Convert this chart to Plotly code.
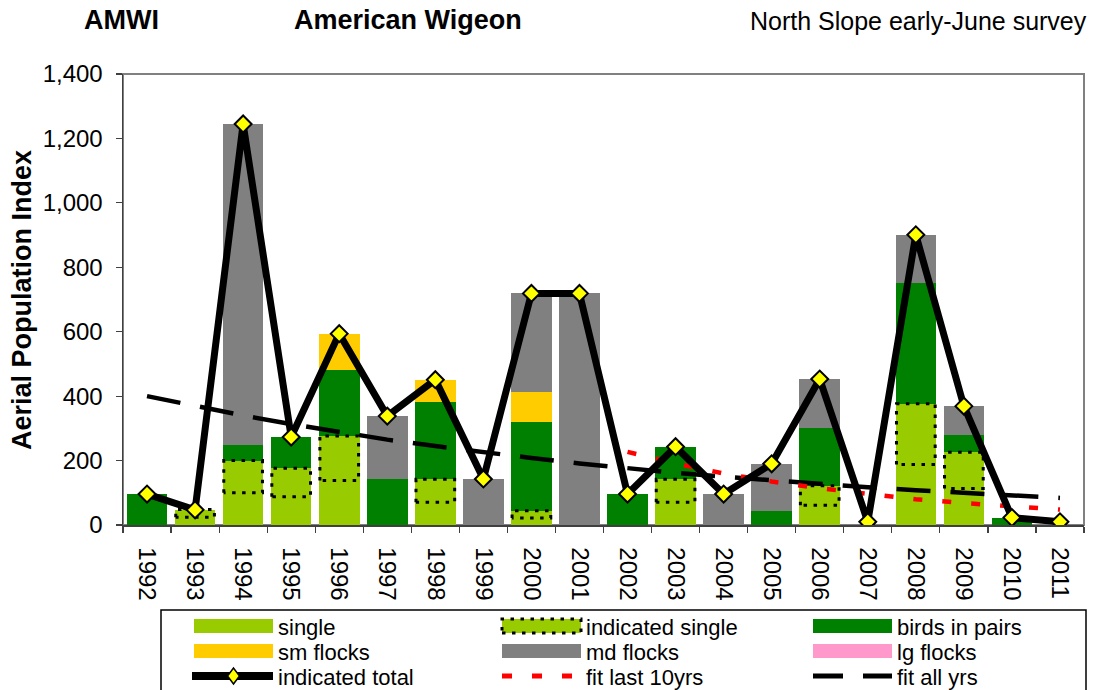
import plotly.graph_objects as go

# ---------------- data ----------------
years = [1992, 1993, 1994, 1995, 1996, 1997, 1998, 1999, 2000, 2001,
         2002, 2003, 2004, 2005, 2006, 2007, 2008, 2009, 2010, 2011]
year_labels = [str(y) for y in years]
single = [0, 24, 100, 88, 138, 0, 71, 0, 22, 0, 0, 71, 0, 0, 61, 0, 188, 113, 0, 0]
indicated_single = [0, 24, 100, 88, 138, 0, 71, 0, 22, 0, 0, 71, 0, 0, 61, 0, 188, 113, 0, 0]
birds_in_pairs = [96, 0, 48, 98, 205, 143, 240, 0, 276, 0, 96, 100, 0, 43, 180, 0, 375, 54, 23, 0]
sm_flocks = [0, 0, 0, 0, 112, 0, 68, 0, 93, 0, 0, 0, 0, 0, 0, 0, 0, 0, 0, 0]
md_flocks = [0, 0, 997, 0, 0, 195, 0, 143, 306, 719, 0, 0, 96, 147, 152, 0, 150, 90, 0, 0]
lg_flocks = [0, 0, 0, 0, 0, 0, 0, 0, 0, 0, 0, 0, 0, 0, 0, 0, 0, 0, 0, 0]
indicated_total = [96, 47, 1245, 273, 594, 338, 451, 143, 719, 719,
                   96, 243, 96, 190, 453, 10, 901, 369, 23, 10]
fit_all_yrs = [400, 369, 340, 313, 288, 265, 245, 225, 208, 191,
               176, 162, 150, 138, 127, 117, 108, 99, 91, 84]
fit_last10_years = [2002, 2003, 2004, 2005, 2006, 2007, 2008, 2009, 2010, 2011]
fit_last10 = [227, 191, 160, 135, 114, 96, 80, 68, 57, 48]
y_ticks = [0, 200, 400, 600, 800, 1000, 1200, 1400]

legend_names = [["single", "indicated single", "birds in pairs"],
                ["sm flocks", "md flocks", "lg flocks"],
                ["indicated total", "fit last 10yrs", "fit all yrs"]]

# ---------------- styles ----------------
C_SINGLE = "#99CC00"
C_PAIRS = "#008000"
C_SM = "#FFCC00"
C_MD = "#808080"
C_LG = "#FF99CC"
FONT = "Liberation Sans, Arial, sans-serif"
W, H = 1094, 690
ML, MT = 123, 74
PW, PH = 961, 451
MR = W - ML - PW
MB = H - MT - PH
BAR_W = 0.845


def px(x):  # pixel -> paper x
    return (x - ML) / PW


def py(y):  # pixel -> paper y
    return (MT + PH - y) / PH


fig = go.Figure()

stack = [("single", single, C_SINGLE), ("indicated single", indicated_single, C_SINGLE),
         ("birds in pairs", birds_in_pairs, C_PAIRS), ("sm flocks", sm_flocks, C_SM),
         ("md flocks", md_flocks, C_MD), ("lg flocks", lg_flocks, C_LG)]
for name, vals, col in stack:
    fig.add_trace(go.Bar(x=years, y=vals, name=name, width=BAR_W,
                         marker=dict(color=col, line=dict(width=0)),
                         showlegend=False))

# dotted outline around the indicated-single segments
ox, oy = [], []
for yr, s, ind in zip(years, single, indicated_single):
    if ind > 0:
        x0, x1 = yr - BAR_W / 2 + 0.02, yr + BAR_W / 2 - 0.02
        ox += [x0, x0, x1, x1, x0, None]
        oy += [s, s + ind, s + ind, s, s, None]
fig.add_trace(go.Scatter(x=ox, y=oy, mode="lines", showlegend=False, hoverinfo="skip",
                         line=dict(color="black", width=3, dash="3.5px,6.5px")))

fig.add_trace(go.Scatter(x=years, y=fit_all_yrs, mode="lines", name="fit all yrs",
                         showlegend=False,
                         line=dict(color="black", width=4.5, dash="34px,20px")))
fig.add_trace(go.Scatter(x=fit_last10_years, y=fit_last10, mode="lines", name="fit last 10yrs",
                         showlegend=False,
                         line=dict(color="#FF0000", width=4.5, dash="9px,20px")))
fig.add_trace(go.Scatter(x=years, y=indicated_total, mode="lines+markers", name="indicated total",
                         showlegend=False,
                         line=dict(color="black", width=7),
                         marker=dict(symbol="diamond", size=13, color="#FFFF00",
                                     line=dict(color="black", width=2))))

shapes = []
annotations = []

# plot frame (grey top/right)
shapes.append(dict(type="rect", xref="paper", yref="paper", x0=0, x1=1, y0=0, y1=1,
                   line=dict(color="#808080", width=2), layer="below"))

# titles
annotations.append(dict(text="<b>AMWI</b>", x=px(82), y=py(20), xref="paper", yref="paper",
                        xanchor="left", yanchor="middle", showarrow=False,
                        font=dict(family=FONT, size=27, color="black")))
annotations.append(dict(text="<b>American Wigeon</b>", x=px(292), y=py(20), xref="paper", yref="paper",
                        xanchor="left", yanchor="middle", showarrow=False,
                        font=dict(family=FONT, size=27, color="black")))
annotations.append(dict(text="North Slope early-June survey", x=px(1089), y=py(21), xref="paper",
                        yref="paper", xanchor="right", yanchor="middle", showarrow=False,
                        font=dict(family=FONT, size=25, color="black")))
annotations.append(dict(text="<b>Aerial Population Index</b>", x=px(22), y=py(300), xref="paper",
                        yref="paper", xanchor="center", yanchor="middle", textangle=-90,
                        showarrow=False, font=dict(family=FONT, size=27, color="black")))

# ---------------- manual legend ----------------
LX0, LX1, LY0, LY1 = 161, 1086, 610, 720
shapes.append(dict(type="rect", xref="paper", yref="paper", x0=px(LX0), x1=px(LX1),
                   y0=py(LY1), y1=py(LY0), line=dict(color="black", width=1.5),
                   fillcolor="white", layer="above"))
col_sym = [194, 502, 813]
SYM_W = 79
row_y = [626, 651, 676]


def rect_sym(c, r, fill, dotted=False):
    x0 = col_sym[c]
    x1 = x0 + SYM_W
    y0 = row_y[r] - 7
    y1 = row_y[r] + 7
    if dotted:
        shapes.append(dict(type="rect", xref="paper", yref="paper", x0=px(x0), x1=px(x1),
                           y0=py(y1), y1=py(y0), fillcolor=fill,
                           line=dict(color="black", width=3, dash="3.5px,6.5px"), layer="above"))
    else:
        shapes.append(dict(type="rect", xref="paper", yref="paper", x0=px(x0), x1=px(x1),
                           y0=py(y1), y1=py(y0), fillcolor=fill, line=dict(width=0),
                           layer="above"))


rect_sym(0, 0, C_SINGLE)
rect_sym(1, 0, C_SINGLE, dotted=True)
rect_sym(2, 0, C_PAIRS)
rect_sym(0, 1, C_SM)
rect_sym(1, 1, C_MD)
rect_sym(2, 1, C_LG)

# indicated total symbol
ly = row_y[2]
shapes.append(dict(type="line", xref="paper", yref="paper", x0=px(col_sym[0] - 2), x1=px(col_sym[0] + SYM_W),
                   y0=py(ly), y1=py(ly), line=dict(color="black", width=8), layer="above"))
cx = col_sym[0] + SYM_W / 2
d = 6
shapes.append(dict(type="path", xref="paper", yref="paper",
                   path=f"M {px(cx - d)} {py(ly)} L {px(cx)} {py(ly - 8)} L {px(cx + d)} {py(ly)} "
                        f"L {px(cx)} {py(ly + 8)} Z",
                   fillcolor="#FFFF00", line=dict(color="black", width=1.5), layer="above"))
# fit last 10yrs symbol
shapes.append(dict(type="line", xref="paper", yref="paper", x0=px(col_sym[1]), x1=px(col_sym[1] + SYM_W),
                   y0=py(ly), y1=py(ly), line=dict(color="#FF0000", width=5, dash="10px,20px"),
                   layer="above"))
# fit all yrs symbol
shapes.append(dict(type="line", xref="paper", yref="paper", x0=px(col_sym[2]), x1=px(col_sym[2] + SYM_W),
                   y0=py(ly), y1=py(ly), line=dict(color="black", width=5, dash="30px,20px"),
                   layer="above"))

for r, row in enumerate(legend_names):
    for c, name in enumerate(row):
        annotations.append(dict(text=name, x=px(col_sym[c] + SYM_W + 3), y=py(row_y[r] + 1),
                                xref="paper", yref="paper", xanchor="left", yanchor="middle",
                                showarrow=False,
                                font=dict(family=FONT, size=22, color="black")))

fig.update_layout(
    width=W, height=H,
    margin=dict(l=ML, r=MR, t=MT, b=MB, autoexpand=False),
    paper_bgcolor="white", plot_bgcolor="white",
    barmode="stack", bargap=0,
    showlegend=False, hovermode=False,
    shapes=shapes, annotations=annotations,
    font=dict(family=FONT, color="black"),
    xaxis=dict(range=[1991.5, 2011.5], tickmode="array", tickvals=years, ticktext=year_labels,
               tickangle=90, ticks="outside", ticklen=16, tickcolor="rgba(0,0,0,0)",
               tickfont=dict(family=FONT, size=24, color="black"),
               showline=True, linecolor="#404040", linewidth=1.5,
               showgrid=False, zeroline=False, fixedrange=True,
               minor=dict(tick0=1991.5, dtick=1, ticks="outside", ticklen=6,
                          tickcolor="#404040", tickwidth=1.2, showgrid=False)),
    yaxis=dict(range=[0, 1400], tickmode="array", tickvals=y_ticks,
               tickformat=",", ticks="outside", ticklen=6, tickcolor="#404040", tickwidth=1.2,
               ticklabelstandoff=8,
               tickfont=dict(family=FONT, size=24, color="black"),
               showline=True, linecolor="#404040", linewidth=1.5,
               showgrid=False, zeroline=False, fixedrange=True),
)

fig.write_html("out.html",
               config={"displayModeBar": False, "staticPlot": True},
               post_script="document.body.style.margin='0';document.body.style.overflow='hidden';")
